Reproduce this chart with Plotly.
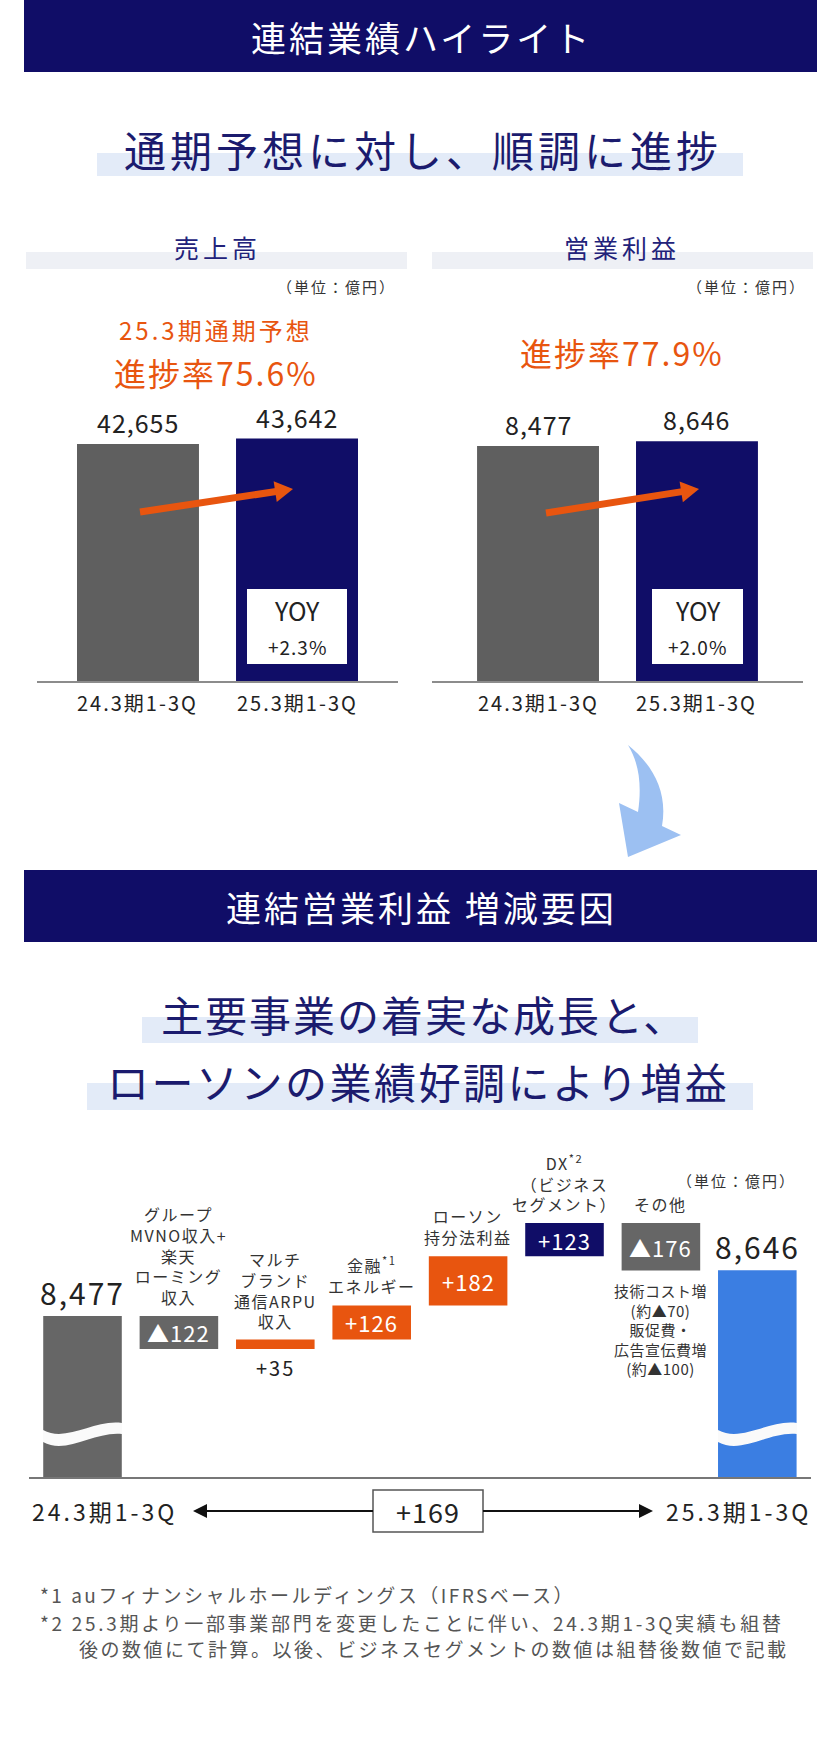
import math
import plotly.graph_objects as go

W, H = 840, 1742
FONT = "Noto Sans CJK JP"

# ---------------- data ----------------
period_labels = ["24.3期1-3Q", "25.3期1-3Q"]
sales_values = [42655, 43642]
op_values = [8477, 8646]
sales_yoy = "+2.3%"
op_yoy = "+2.0%"
sales_progress = "75.6%"
op_progress = "77.9%"

wf_factor_labels = [
    "グループ<br>MVNO収入+<br>楽天<br>ローミング<br>収入",
    "マルチ<br>ブランド<br>通信ARPU<br>収入",
    "金融<sup>*1</sup><br>エネルギー",
    "ローソン<br>持分法利益",
    "DX<sup>*2</sup><br>（ビジネス<br>セグメント）",
    "その他",
]
wf_deltas = [-122, 35, 126, 182, 123, -176]
wf_start = 8477
wf_end = 8646
wf_change = 169
other_note = ["技術コスト増", "(約▲70)", "販促費・", "広告宣伝費増", "(約▲100)"]
footnotes = [
    "*1 auフィナンシャルホールディングス（IFRSベース）",
    "*2 25.3期より一部事業部門を変更したことに伴い、24.3期1-3Q実績も組替",
    "後の数値にて計算。以後、ビジネスセグメントの数値は組替後数値で記載",
]

# ---------------- style ----------------
NAVY = "#100d67"
TITLE_NAVY = "#1b1b6e"
ORANGE = "#e8550f"
GREY_BAR = "#5f5f5f"
WF_GREY = "#666666"
BLUE = "#3b7ee2"
TXT = "#222222"
BAND = "#e3ebf8"
SUBBAND = "#eef0f5"


def X(x):
    return x / W


def Y(y):
    return 1 - y / H


def P(x, y):
    return f"{X(x):.5f},{Y(y):.5f}"


def ls(text, s):
    if not s:
        return text
    return "<br>".join(f'<span style="letter-spacing:{s}px">{t}</span>' for t in text.split("<br>"))


anns = []
shapes = []


def text(x, y, t, size, color=TXT, xanchor="center", yanchor="middle", spacing=0):
    anns.append(dict(x=X(x), y=Y(y), xref="paper", yref="paper", text=ls(t, spacing),
                     showarrow=False, font=dict(family=FONT, size=size, color=color),
                     xanchor=xanchor, yanchor=yanchor))


def rect(x0, y0, x1, y1, fill, line=None, layer="below"):
    shapes.append(dict(type="rect", xref="paper", yref="paper", x0=X(x0), x1=X(x1),
                       y0=Y(y1), y1=Y(y0), fillcolor=fill, layer=layer,
                       line=dict(width=line[1] if line else 0, color=line[0] if line else "rgba(0,0,0,0)")))


def arrow(tip, tail, color, width, head_len, head_w, layer="above"):
    dx, dy = tip[0] - tail[0], tip[1] - tail[1]
    L = math.hypot(dx, dy)
    ux, uy = dx / L, dy / L
    nx, ny = -uy, ux
    bx, by = tip[0] - ux * head_len, tip[1] - uy * head_len
    shapes.append(dict(type="line", xref="paper", yref="paper", layer=layer,
                       x0=X(tail[0]), y0=Y(tail[1]), x1=X(bx + ux), y1=Y(by + uy),
                       line=dict(color=color, width=width)))
    shapes.append(dict(type="path", xref="paper", yref="paper", layer=layer,
                       path=(f"M {P(tip[0], tip[1])} L {P(bx + nx * head_w / 2, by + ny * head_w / 2)} "
                             f"L {P(bx - nx * head_w / 2, by - ny * head_w / 2)} Z"),
                       fillcolor=color, line=dict(width=0)))


fig = go.Figure()

# ================= Section 1 =================
rect(24, 0, 817, 72, NAVY)
text(421, 37, "連結業績ハイライト", 35, "white", spacing=3)
rect(97, 153, 743, 176, BAND)
text(423, 148, "通期予想に対し、順調に進捗", 42, TITLE_NAVY, spacing=4)

rect(26, 252, 407, 269, SUBBAND)
text(217, 247, "売上高", 25, "#22227a", spacing=4)
rect(432, 252, 813, 269, SUBBAND)
text(622, 247, "営業利益", 25, "#22227a", spacing=4)

text(398, 287, "（単位：億円）", 15, "#333333", xanchor="right", spacing=2)
text(808, 287, "（単位：億円）", 15, "#333333", xanchor="right", spacing=2)

text(216, 330, "25.3期通期予想", 24, ORANGE, spacing=3)
text(216, 372, f"進捗率{sales_progress}", 32, ORANGE, spacing=2)
text(622, 352, f"進捗率{op_progress}", 32, ORANGE, spacing=2)

bar_colors = [GREY_BAR, NAVY]
fig.add_trace(go.Bar(x=period_labels, y=sales_values, marker=dict(color=bar_colors, line=dict(width=0)),
                     width=0.767, xaxis="x", yaxis="y", hoverinfo="skip"))
fig.add_trace(go.Bar(x=period_labels, y=op_values, marker=dict(color=bar_colors, line=dict(width=0)),
                     width=0.767, xaxis="x2", yaxis="y2", hoverinfo="skip"))

for xr, yr, vals in (("x", "y", sales_values), ("x2", "y2", op_values)):
    for cat, v in zip(period_labels, vals):
        anns.append(dict(x=cat, y=v, xref=xr, yref=yr, text=ls(f"{v:,}", 1), showarrow=False,
                         yanchor="middle", yshift=22, font=dict(family=FONT, size=25, color=TXT)))
    # category labels under the baseline
    for cat in period_labels:
        anns.append(dict(x=cat, y=Y(702), xref=xr, yref="paper", text=ls(cat, 2), showarrow=False,
                         yanchor="middle", font=dict(family=FONT, size=20, color=TXT)))

# YOY boxes
rect(247, 589, 347, 664, "white", layer="above")
text(297, 610, "YOY", 25)
text(297, 646, sales_yoy, 19, spacing=1)
rect(652, 589, 743, 664, "white", layer="above")
text(697.5, 610, "YOY", 25)
text(697.5, 646, op_yoy, 19, spacing=1)

# orange arrows
arrow((293, 489), (140, 512), ORANGE, 7, 18, 21)
arrow((699, 489), (546, 513), ORANGE, 7, 18, 21)

axis_common = dict(showgrid=False, zeroline=False, fixedrange=True)
fig.update_layout(
    xaxis=dict(domain=[X(37), X(398)], range=[-0.635, 1.635], anchor="y", showline=True,
               linecolor="#8c8c8c", linewidth=2, showticklabels=False, ticks="",
               type="category", **axis_common),
    yaxis=dict(domain=[Y(681), Y(381)], range=[0, sales_values[0] * 300 / 237], visible=False,
               anchor="x", **axis_common),
    xaxis2=dict(domain=[X(432), X(803)], range=[-0.667, 1.667], anchor="y2", showline=True,
                linecolor="#8c8c8c", linewidth=2, showticklabels=False, ticks="",
                type="category", **axis_common),
    yaxis2=dict(domain=[Y(681), Y(381)], range=[0, op_values[0] * 300 / 235], visible=False,
                anchor="x2", **axis_common),
)

# big curved light-blue arrow
shapes.append(dict(
    type="path", xref="paper", yref="paper", layer="below",
    path=(f"M {P(628,745)} C {P(653,765)} {P(668,792)} {P(662,826)} L {P(681,835)} "
          f"L {P(628,857)} L {P(619,803)} L {P(638,812)} C {P(642,785)} {P(639,763)} {P(628,745)} Z"),
    fillcolor="#9cc0f2", line=dict(width=0)))

# ================= Section 2 =================
rect(24, 870, 817, 942, NAVY)
text(421, 906, "連結営業利益 増減要因", 35, "white", spacing=3)
rect(142, 1017, 698, 1043, BAND)
text(424, 1013, "主要事業の着実な成長と、", 42, TITLE_NAVY, spacing=2)
rect(87, 1083, 753, 1110, BAND)
text(418, 1080, "ローソンの業績好調により増益", 42, TITLE_NAVY, spacing=2.5)

text(798, 1180, "（単位：億円）", 15, "#333333", xanchor="right", spacing=2)

# waterfall geometry (value per pixel of the broken axis)
WF_VPP = 3.7
wf_bottom_val = wf_start - (1477 - 1316) * WF_VPP
wf_top_val = wf_bottom_val + (1477 - 1150) * WF_VPP

xs = list(range(len(wf_deltas) + 2))
heights = [wf_start]
bases = [0]
level = wf_start
for d in wf_deltas:
    bases.append(level if d > 0 else level + d)
    heights.append(abs(d))
    level += d
heights.append(wf_end)
bases.append(0)
delta_colors = [WF_GREY, ORANGE, ORANGE, ORANGE, NAVY, WF_GREY]
wf_colors = [WF_GREY] + delta_colors + [BLUE]

fig.add_trace(go.Bar(x=xs, y=heights, base=bases, marker=dict(color=wf_colors, line=dict(width=0)),
                     width=0.815, xaxis="x3", yaxis="y3", hoverinfo="skip"))

fig.update_layout(
    xaxis3=dict(domain=[X(29), X(811)], range=[-0.555, len(xs) - 1 + 0.557], anchor="y3",
                showline=True, linecolor="#777777", linewidth=2, showticklabels=False, ticks="",
                **axis_common),
    yaxis3=dict(domain=[Y(1477), Y(1150)], range=[wf_bottom_val, wf_top_val], visible=False,
                anchor="x3", **axis_common),
)

# totals labels
for i, v in ((0, wf_start), (len(xs) - 1, wf_end)):
    anns.append(dict(x=i, y=v, xref="x3", yref="y3", text=ls(f"{v:,}", 2), showarrow=False,
                     yanchor="middle", yshift=24, font=dict(family=FONT, size=30, color=TXT)))

# factor boxes labels
for k, d in enumerate(wf_deltas):
    i = k + 1
    b = bases[i]
    h = heights[i]
    lab = f"+{d}" if d > 0 else f"▲{abs(d)}"
    if h / WF_VPP < 20:
        anns.append(dict(x=i, y=b, xref="x3", yref="y3", text=ls(lab, 2), showarrow=False,
                         yanchor="top", yshift=-2, font=dict(family=FONT, size=20, color=TXT)))
    else:
        anns.append(dict(x=i, y=b + h / 2, xref="x3", yref="y3", text=ls(lab, 1), showarrow=False,
                         yanchor="middle", font=dict(family=FONT, size=22, color="white")))
    anns.append(dict(x=i, y=b + h, xref="x3", yref="y3", text=ls(wf_factor_labels[k], 1.5),
                     showarrow=False, yanchor="bottom", yshift=5,
                     font=dict(family=FONT, size=16, color="#333333")))

# note under "その他"
anns.append(dict(x=len(wf_deltas), y=bases[len(wf_deltas)], xref="x3", yref="y3",
                 text=ls("<br>".join(other_note), 0.5), showarrow=False, yanchor="top", yshift=-7,
                 font=dict(family=FONT, size=15, color="#333333")))

# break marks on total bars
for x0, x1 in ((43, 122), (718, 797)):
    w = x1 - x0
    shapes.append(dict(
        type="path", xref="paper", yref="paper", layer="above",
        path=(f"M {P(x0,1430)} C {P(x0+0.3*w,1443)} {P(x0+0.65*w,1419)} {P(x1,1423)} "
              f"L {P(x1,1434)} C {P(x0+0.65*w,1431)} {P(x0+0.3*w,1455)} {P(x0,1442)} Z"),
        fillcolor="#fafafa", line=dict(width=0)))

# bottom row
text(30, 1511, period_labels[0], 23, xanchor="left", spacing=3)
text(813, 1511, period_labels[1], 23, xanchor="right", spacing=3)
rect(373, 1490, 483, 1532, "white", line=("#555555", 1.5), layer="above")
text(428, 1511, f"+{wf_change}", 27, spacing=1)
arrow((193, 1511), (373, 1511), "#111111", 2, 14, 14)
arrow((653, 1511), (483, 1511), "#111111", 2, 14, 14)

# footnotes
text(38, 1594, footnotes[0], 19, "#555555", xanchor="left", spacing=2.5)
text(38, 1622, footnotes[1], 19, "#555555", xanchor="left", spacing=2.7)
text(77, 1648, footnotes[2], 19, "#555555", xanchor="left", spacing=2.5)

fig.update_layout(
    width=W, height=H, margin=dict(l=0, r=0, t=0, b=0),
    paper_bgcolor="white", plot_bgcolor="rgba(0,0,0,0)",
    showlegend=False, barmode="overlay",
    font=dict(family=FONT, color=TXT),
    annotations=anns, shapes=shapes,
)

fig.write_html("out.html", config={"displayModeBar": False},
               post_script="document.body.style.margin='0';")
